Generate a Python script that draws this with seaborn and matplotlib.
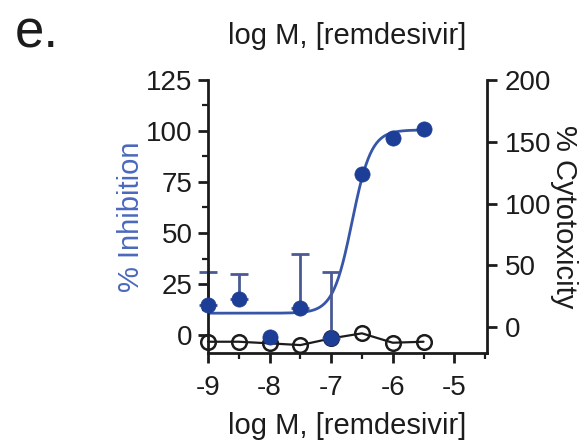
import numpy as np
import pandas as pd
import matplotlib
matplotlib.use("Agg")
import matplotlib.pyplot as plt
from matplotlib.ticker import MultipleLocator
import seaborn as sns

# Remdesivir dose-response: antiviral inhibition and cytotoxicity
log_conc = [-9, -8.5, -8, -7.5, -7, -6.5, -6, -5.5]
inhibition = [14.7, 17.7, -1.0, 13.4, -1.6, 78.7, 96.7, 100.8]
inhibition_sd = [16.3, 12.3, 0.0, 26.3, 32.6, 0.0, 0.0, 0.0]
cytotoxicity = [-11.9, -11.9, -13.2, -14.6, -9.2, -5.1, -12.7, -11.9]

# Four-parameter logistic fit of the inhibition data
fit_bottom = 10.7
fit_top = 100.5
fit_log_ic50 = -6.66
fit_hill = 2.8

x_ticks = [-9, -8, -7, -6, -5]
left_ticks = [0, 25, 50, 75, 100, 125]
right_ticks = [0, 50, 100, 150, 200]

sns.set_theme(style="ticks")
plt.rcParams["font.family"] = ["Liberation Sans", "DejaVu Sans"]

ink = "#1c1c1c"
dark_blue = "#1d3e96"
curve_blue = "#3656a8"
label_blue = "#4a68bd"
err_color = "#4b5a93"

df = pd.DataFrame({"logM": log_conc, "inh": inhibition, "sd": inhibition_sd,
                   "cyto": cytotoxicity})
x_fit = np.linspace(log_conc[0], log_conc[-1], 300)
fit = pd.DataFrame({"logM": x_fit,
                    "inh": fit_bottom + (fit_top - fit_bottom)
                    / (1 + 10 ** ((fit_log_ic50 - x_fit) * fit_hill))})

fig = plt.figure(figsize=(5.88, 4.44), dpi=100)
ax = fig.add_axes([0.3537, 0.205, 0.4745, 0.6149])
ax2 = ax.twinx()
ax.set_zorder(ax2.get_zorder() + 1)
ax.patch.set_visible(False)

# Cytotoxicity on the right axis
sns.lineplot(data=df, x="logM", y="cyto", ax=ax2, color=ink, lw=1.6,
             marker="o", markersize=10.5, markerfacecolor="none",
             markeredgecolor=ink, markeredgewidth=1.8, clip_on=False)

# Inhibition on the left axis
sns.lineplot(data=fit, x="logM", y="inh", ax=ax, color=curve_blue, lw=2.0)
err = df[df["sd"] > 0]
ax.errorbar(err["logM"], err["inh"], yerr=[np.zeros(len(err)), err["sd"]],
            fmt="none", ecolor=err_color, elinewidth=2.0, capsize=6.5,
            capthick=2.0, clip_on=False)
sns.scatterplot(data=df, x="logM", y="inh", ax=ax, color=dark_blue, s=120,
                edgecolor=dark_blue, linewidth=0.5, zorder=5, clip_on=False)

ax.set_xlim(-9, -4.47)
ax.set_ylim(-8.8, 125)
ax2.set_ylim(-21, 200)

ax.set_xticks(x_ticks)
ax.set_xticklabels([str(t) for t in x_ticks])
ax.xaxis.set_minor_locator(MultipleLocator(0.5))
ax.set_yticks(left_ticks)
ax.set_yticklabels([str(t) for t in left_ticks])
ax.yaxis.set_minor_locator(MultipleLocator(12.5))
ax2.set_yticks(right_ticks)
ax2.set_yticklabels([str(t) for t in right_ticks])

for s in ["top", "right"]:
    ax.spines[s].set_visible(False)
for s in ["top", "left", "bottom"]:
    ax2.spines[s].set_visible(False)
for s in ["left", "bottom"]:
    ax.spines[s].set_linewidth(2.0)
    ax.spines[s].set_color(ink)
ax2.spines["right"].set_linewidth(2.0)
ax2.spines["right"].set_color(ink)

ax.tick_params(axis="both", which="major", direction="out", length=7,
               width=2.0, labelsize=20, color=ink, labelcolor=ink, pad=4)
ax.tick_params(axis="x", which="major", pad=9)
ax.tick_params(axis="both", which="minor", direction="out", length=4,
               width=1.6, color=ink)
ax2.tick_params(axis="y", which="major", direction="out", length=7,
                width=2.0, labelsize=20, color=ink, labelcolor=ink, pad=6)

ax.set_xlabel("log M, [remdesivir]", fontsize=21, color=ink, labelpad=8)
ax.set_ylabel("% Inhibition", fontsize=21, color=label_blue, labelpad=1)
ax2.set_ylabel("% Cytotoxicity", fontsize=21, color=ink, rotation=270,
               labelpad=19)
ax.set_title("log M, [remdesivir]", fontsize=21, color=ink, pad=26)

fig.text(0.025, 0.893, "e.", fontsize=38, color=ink, ha="left",
         va="baseline")

fig.savefig("out.png", dpi=100, facecolor="white")
